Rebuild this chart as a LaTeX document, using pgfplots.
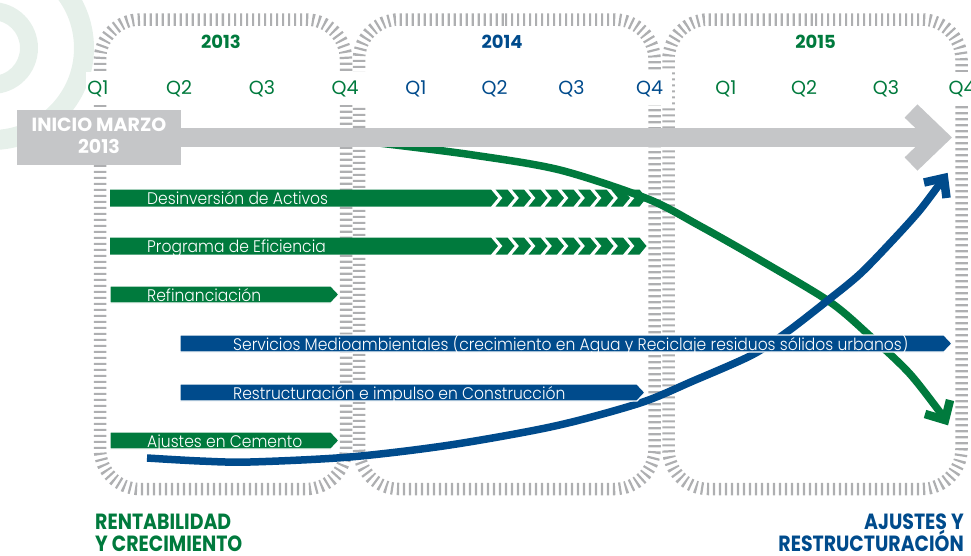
\documentclass[border=0pt]{standalone}
\usepackage{fontspec}
\setmainfont{Poppins}
\newfontfamily\lightf{Poppins Light}
\usepackage{pgfplots}
\pgfplotsset{compat=1.18}
\usepackage{graphicx}

\definecolor{vgreen}{HTML}{007A3D}
\definecolor{vblue}{HTML}{004B8C}
\definecolor{arrowgray}{HTML}{C5C6C8}
\definecolor{tickgray}{HTML}{AEAFB1}
\definecolor{ringgreen}{HTML}{E6F0EA}

\newcommand\barfont{\lightf\fontsize{16.8}{18}\selectfont}
\newcommand\qfont{\fontsize{19}{21}\selectfont}
\newcommand\yearfont{\bfseries\fontsize{18}{20}\selectfont}
\newcommand\tagfont{\bfseries\fontsize{22}{24}\selectfont}
\newcommand\bl[1]{\scalebox{0.925}[1]{#1}}
\newcommand\tg[1]{\scalebox{0.86}[1]{#1}}

\pgfplotsset{
  frm/.style={draw=tickgray, line width=12.5pt, dash pattern=on 2.2pt off 3.8pt, rounded corners=40pt},
}
\tikzset{
  qlab/.style={font=\qfont, fill=white, inner xsep=1pt, inner ysep=0pt, minimum height=33pt},
  blab/.style={anchor=base west, text=white, font=\barfont, inner sep=0pt},
}

\begin{document}
\begin{tikzpicture}
\begin{axis}[hide axis, x=1pt, y=1pt, xmin=0, xmax=971, ymin=0, ymax=555, y dir=reverse, clip=true]

% faint rings, top left
\fill[ringgreen, even odd rule] (axis cs:-8,48) circle[radius=102pt] (axis cs:-8,48) circle[radius=82pt];
\fill[ringgreen, even odd rule] (axis cs:-8,48) circle[radius=46pt] (axis cs:-8,48) circle[radius=28pt];

% year frames
\addplot[frm] coordinates {(222,19.5)(346,19.5)(346,489)(100,489)(100,19.5)(222,19.5)};
\addplot[frm] coordinates {(505,19.5)(654.5,19.5)(654.5,489)(359,489)(359,19.5)(505,19.5)};
\addplot[frm] coordinates {(815,19.5)(961.5,19.5)(961.5,489)(668.5,489)(668.5,19.5)(815,19.5)};

% green curve
\addplot[draw=vgreen, line width=7.5pt, smooth] coordinates {
  (330,138)(383,143.5)(473,155)(560,170)(648,199)(700,226)(760,260)
  (830,302)(870,336)(910,374)(945,419)};
\addplot[draw=vgreen, line width=8.5pt, line join=miter] coordinates {(925,414)(945,420)(950,400)};

% blue curve
\addplot[draw=vblue, line width=7.5pt, smooth] coordinates {
  (147,458)(200,461)(250,462)(350,457)(450,445)(555,426)(640,403)
  (693,381)(752,355)(787,332)(827,301)(860,274)(893,240)(920,210)(944,178)};
\addplot[draw=vblue, line width=8.5pt, line join=miter] coordinates {(924,182.5)(944,178)(946.5,198)};

% gray start arrow
\addplot[draw=arrowgray, line width=19pt] coordinates {(175,137.5)(936,137.5)};
\addplot[draw=arrowgray, line width=18.5pt, line join=miter] coordinates {(911,111)(938.6,137.5)(911,164)};
\addplot[fill=arrowgray, draw=none] coordinates {(17,110)(181,110)(181,164.5)(17,164.5)} -- cycle;

% bars with chevrons
\addplot[fill=vgreen, draw=none] coordinates {(110,189.5)(491,189.5)(498,198)(491,206.5)(110,206.5)} -- cycle;
\addplot[fill=vgreen, draw=none, unbounded coords=jump] coordinates {
  (495.5,189.5)(507.5,189.5)(514.5,198)(507.5,206.5)(495.5,206.5)(502.5,198) (nan,nan)
  (512,189.5)(524,189.5)(531,198)(524,206.5)(512,206.5)(519,198) (nan,nan)
  (528.5,189.5)(540.5,189.5)(547.5,198)(540.5,206.5)(528.5,206.5)(535.5,198) (nan,nan)
  (545,189.5)(557,189.5)(564,198)(557,206.5)(545,206.5)(552,198) (nan,nan)
  (561.5,189.5)(573.5,189.5)(580.5,198)(573.5,206.5)(561.5,206.5)(568.5,198) (nan,nan)
  (578,189.5)(590,189.5)(597,198)(590,206.5)(578,206.5)(585,198) (nan,nan)
  (594.5,189.5)(606.5,189.5)(613.5,198)(606.5,206.5)(594.5,206.5)(601.5,198) (nan,nan)
  (611,189.5)(623,189.5)(630,198)(623,206.5)(611,206.5)(618,198) (nan,nan)
  (627.5,189.5)(639.5,189.5)(646.5,198)(639.5,206.5)(627.5,206.5)(634.5,198)};
\addplot[fill=vgreen, draw=none] coordinates {(110,237.5)(491,237.5)(498,246)(491,254.5)(110,254.5)} -- cycle;
\addplot[fill=vgreen, draw=none, unbounded coords=jump] coordinates {
  (495.5,237.5)(507.5,237.5)(514.5,246)(507.5,254.5)(495.5,254.5)(502.5,246) (nan,nan)
  (512,237.5)(524,237.5)(531,246)(524,254.5)(512,254.5)(519,246) (nan,nan)
  (528.5,237.5)(540.5,237.5)(547.5,246)(540.5,254.5)(528.5,254.5)(535.5,246) (nan,nan)
  (545,237.5)(557,237.5)(564,246)(557,254.5)(545,254.5)(552,246) (nan,nan)
  (561.5,237.5)(573.5,237.5)(580.5,246)(573.5,254.5)(561.5,254.5)(568.5,246) (nan,nan)
  (578,237.5)(590,237.5)(597,246)(590,254.5)(578,254.5)(585,246) (nan,nan)
  (594.5,237.5)(606.5,237.5)(613.5,246)(606.5,254.5)(594.5,254.5)(601.5,246) (nan,nan)
  (611,237.5)(623,237.5)(630,246)(623,254.5)(611,254.5)(618,246) (nan,nan)
  (627.5,237.5)(639.5,237.5)(646.5,246)(639.5,254.5)(627.5,254.5)(634.5,246)};

% pointed bars
\addplot[fill=vgreen, draw=white, line width=1.2pt] coordinates {(110,286)(331,286)(339,294.5)(331,303)(110,303)} -- cycle;
\addplot[fill=vblue, draw=white, line width=1.2pt] coordinates {(180,335)(944,335)(952,343.5)(944,352)(180,352)} -- cycle;
\addplot[fill=vblue, draw=white, line width=1.2pt] coordinates {(180,384)(637,384)(645,392.5)(637,401)(180,401)} -- cycle;
\addplot[fill=vgreen, draw=white, line width=1.2pt] coordinates {(110,432)(331,432)(339,440.5)(331,449)(110,449)} -- cycle;

% bar labels
\node[blab] at (axis cs:147,204.5) {\bl{Desinversión de Activos}};
\node[blab] at (axis cs:147,252.5) {\bl{Programa de Eficiencia}};
\node[blab] at (axis cs:147,301) {\bl{Refinanciación}};
\node[blab] at (axis cs:233,350) {\bl{Servicios Medioambientales (crecimiento en Agua y Reciclaje residuos sólidos urbanos)}};
\node[blab] at (axis cs:233,399) {\bl{Restructuración e impulso en Construcción}};
\node[blab] at (axis cs:147,447) {\bl{Ajustes en Cemento}};

% start box text
\node[anchor=base, text=white, font=\bfseries\fontsize{19}{21}\selectfont, inner sep=0pt] at (axis cs:99,131) {INICIO MARZO};
\node[anchor=base, text=white, font=\bfseries\fontsize{19}{21}\selectfont, inner sep=0pt] at (axis cs:99,153.5) {2013};

% years
\node[anchor=base, text=vgreen, font=\yearfont, inner sep=0pt] at (axis cs:221,48) {2013};
\node[anchor=base, text=vblue, font=\yearfont, inner sep=0pt] at (axis cs:502,48) {2014};
\node[anchor=base, text=vgreen, font=\yearfont, inner sep=0pt] at (axis cs:815.5,48) {2015};

% quarters
\node[qlab, text=vgreen] at (axis cs:98,88.5) {Q1};
\node[qlab, text=vgreen] at (axis cs:179,88.5) {Q2};
\node[qlab, text=vgreen] at (axis cs:262,88.5) {Q3};
\node[qlab, text=vgreen, minimum width=42pt] at (axis cs:345,88.5) {Q4};
\node[qlab, text=vblue] at (axis cs:416,88.5) {Q1};
\node[qlab, text=vblue] at (axis cs:494.5,88.5) {Q2};
\node[qlab, text=vblue] at (axis cs:571.5,88.5) {Q3};
\node[qlab, text=vblue, minimum width=44pt] at (axis cs:649.5,88.5) {Q4};
\node[qlab, text=vgreen] at (axis cs:726,88.5) {Q1};
\node[qlab, text=vgreen] at (axis cs:804,88.5) {Q2};
\node[qlab, text=vgreen] at (axis cs:886,88.5) {Q3};
\node[qlab, text=vgreen, minimum width=30pt] at (axis cs:962,88.5) {Q4};

% bottom tags
\node[anchor=base west, text=vgreen, font=\tagfont, inner sep=0pt] at (axis cs:95,529.5) {\tg{RENTABILIDAD}};
\node[anchor=base west, text=vgreen, font=\tagfont, inner sep=0pt] at (axis cs:95,551) {\tg{Y CRECIMIENTO}};
\node[anchor=base east, text=vblue, font=\tagfont, inner sep=0pt] at (axis cs:964,529.5) {\tg{AJUSTES Y}};
\node[anchor=base east, text=vblue, font=\tagfont, inner sep=0pt] at (axis cs:964,551) {\tg{RESTRUCTURACIÓN}};

\coordinate (bbA) at (axis cs:0,0);
\coordinate (bbB) at (axis cs:971,555);
\end{axis}
\pgfresetboundingbox
\useasboundingbox (bbA) rectangle (bbB);
\end{tikzpicture}
\end{document}
